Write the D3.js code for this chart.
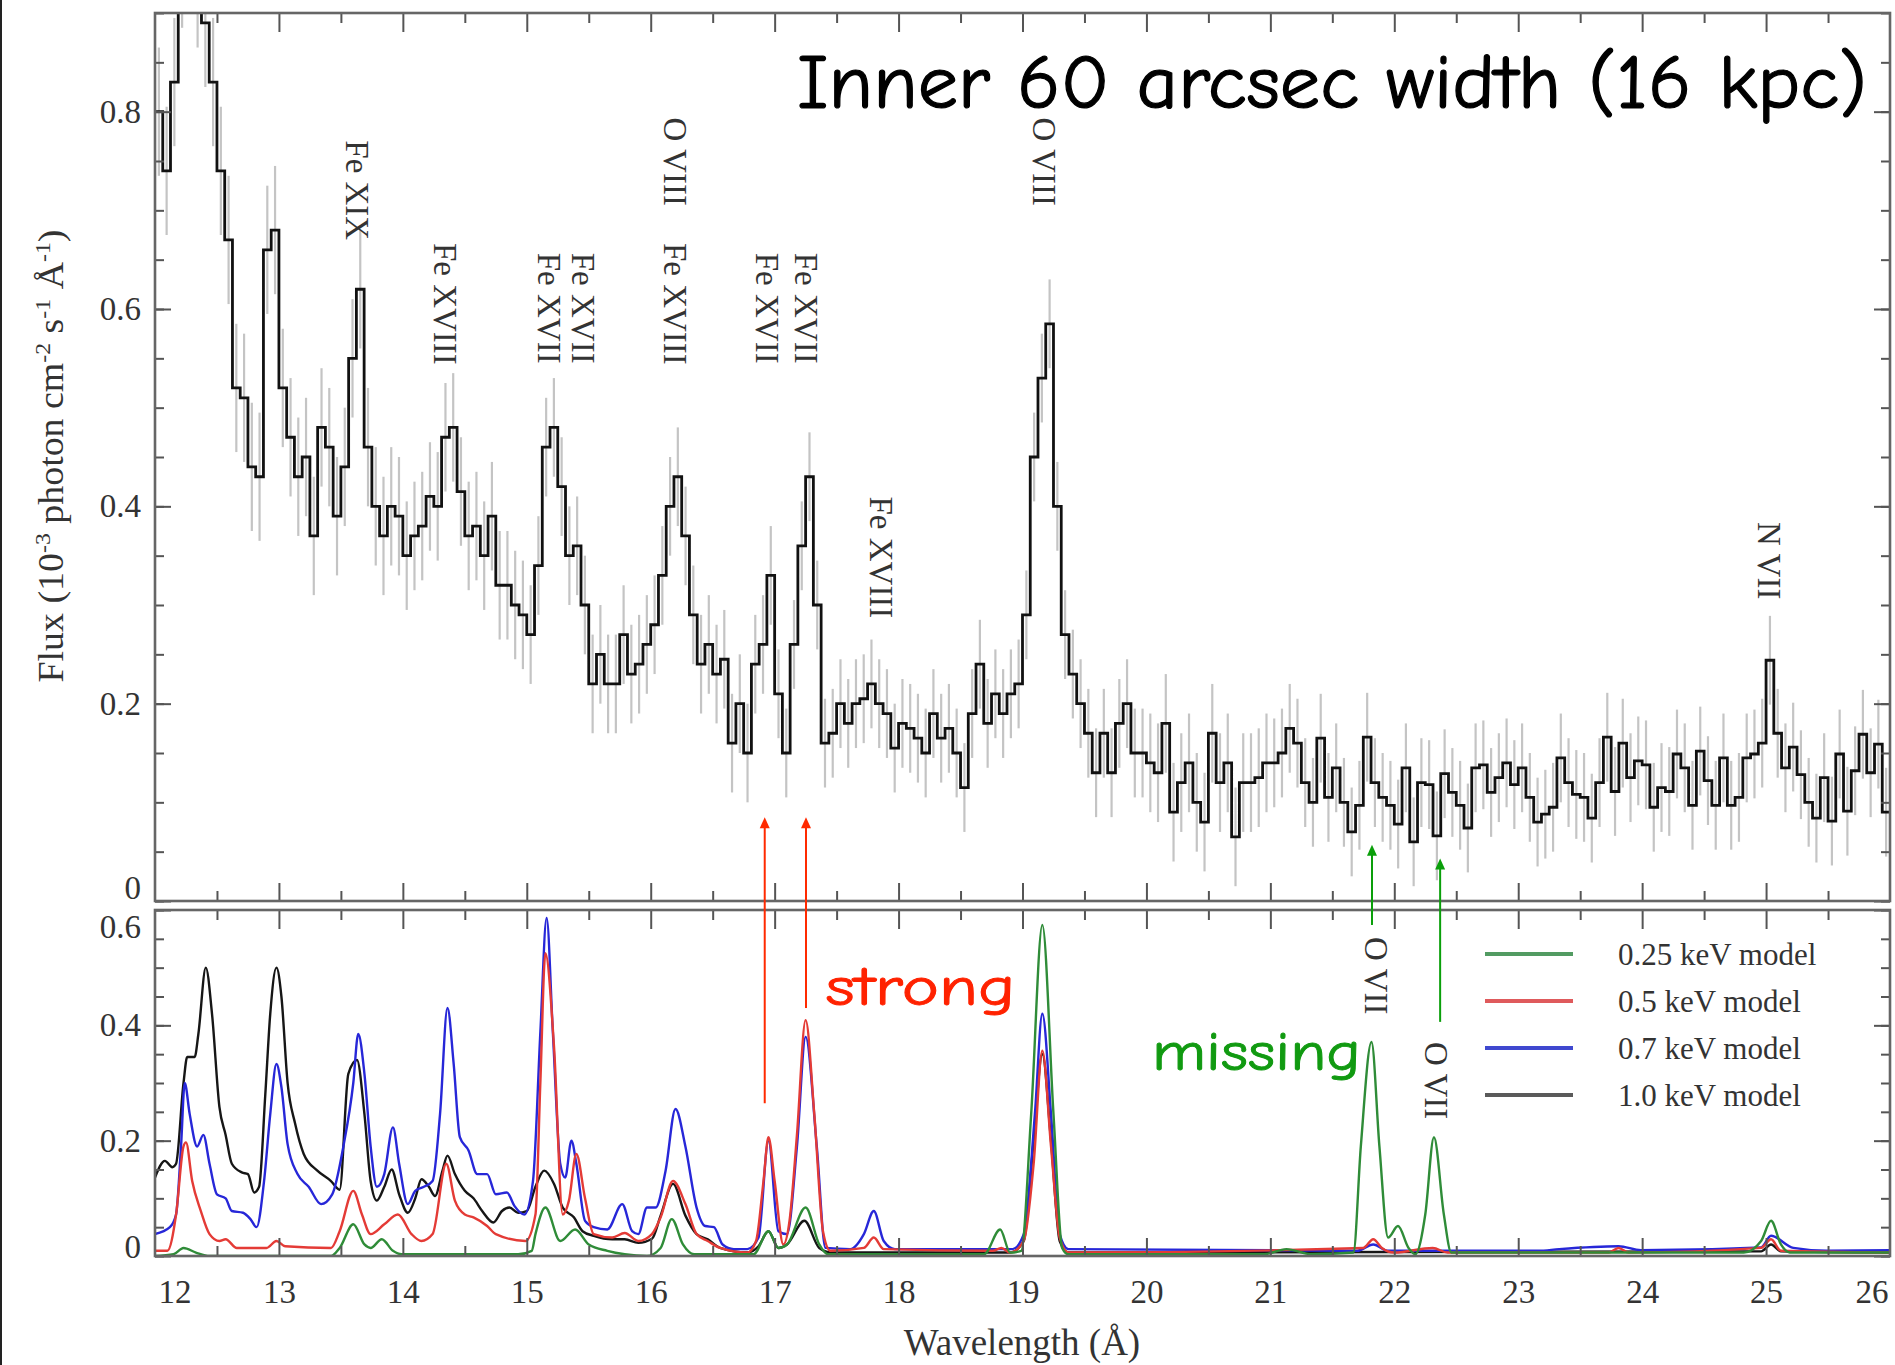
<!DOCTYPE html>
<html><head><meta charset="utf-8">
<script src="https://cdn.jsdelivr.net/npm/d3@7"></script>
<style>body{margin:0;background:#fff}</style>
</head><body>
<svg id="c" width="1895" height="1365" xmlns="http://www.w3.org/2000/svg"></svg>
<script>
// ---------------- DATA ----------------
const wlStart = 12, binWidth = 0.0625;          // RGS spectrum bins (Angstrom)
const flux = [
 // 12 A
 0.80,0.74,0.83,0.95,0.98,0.93,0.89,0.83,0.74,0.67,0.52,0.51,0.44,0.43,0.66,0.68,
 // 13 A
 0.52,0.47,0.43,0.45,0.37,0.48,0.46,0.39,0.44,0.55,0.62,0.46,0.40,0.37,0.40,0.39,
 // 14 A
 0.35,0.37,0.38,0.41,0.40,0.47,0.48,0.415,0.37,0.38,0.35,0.39,0.32,0.32,0.30,0.29,
 // 15 A
 0.27,0.34,0.46,0.48,0.42,0.35,0.36,0.30,0.22,0.25,0.22,0.22,0.27,0.23,0.24,0.26,
 // 16 A
 0.28,0.33,0.40,0.43,0.37,0.29,0.24,0.26,0.23,0.245,0.16,0.20,0.15,0.24,0.26,0.33,
 // 17 A
 0.21,0.15,0.26,0.36,0.43,0.30,0.16,0.17,0.20,0.18,0.20,0.205,0.22,0.20,0.19,0.155,
 // 18 A
 0.18,0.175,0.165,0.15,0.19,0.165,0.175,0.15,0.115,0.19,0.24,0.18,0.21,0.19,0.21,0.22,
 // 19 A
 0.29,0.45,0.53,0.585,0.40,0.27,0.23,0.20,0.17,0.13,0.17,0.13,0.18,0.20,0.15,0.15,
 // 20 A
 0.14,0.13,0.18,0.09,0.12,0.14,0.10,0.08,0.17,0.12,0.14,0.065,0.12,0.12,0.125,0.14,
 // 21 A
 0.14,0.15,0.175,0.16,0.12,0.10,0.165,0.105,0.135,0.10,0.07,0.097,0.166,0.12,0.105,0.097,
 // 22 A
 0.078,0.135,0.06,0.12,0.118,0.066,0.129,0.11,0.097,0.074,0.135,0.138,0.11,0.125,0.14,0.118,
 // 23 A
 0.135,0.105,0.08,0.088,0.095,0.145,0.12,0.108,0.105,0.084,0.12,0.166,0.111,0.16,0.125,0.142,
 // 24 A
 0.138,0.095,0.115,0.111,0.149,0.135,0.097,0.152,0.122,0.097,0.145,0.097,0.105,0.145,0.149,0.16,
 // 25 A
 0.244,0.17,0.135,0.156,0.128,0.10,0.084,0.125,0.081,0.149,0.091,0.132,0.169,0.13,0.159,0.09
];
// typical 1-sigma error half-width, one value per Angstrom (12..25)
const errHalf = [0.065,0.06,0.055,0.05,0.05,0.045,0.045,0.045,0.05,0.045,0.045,0.045,0.045,0.045];

// model spectra [wavelength, flux]
const model10 = [[12.0,0.136],[12.08,0.165],[12.14,0.154],[12.17,0.16],[12.23,0.30],[12.26,0.345],[12.32,0.345],[12.35,0.385],[12.41,0.50],[12.46,0.42],[12.52,0.258],[12.57,0.21],[12.62,0.16],[12.70,0.145],[12.75,0.142],[12.80,0.11],[12.84,0.12],[12.89,0.28],[12.93,0.42],[12.98,0.50],[13.02,0.45],[13.07,0.30],[13.13,0.23],[13.20,0.177],[13.31,0.148],[13.42,0.13],[13.49,0.115],[13.56,0.316],[13.63,0.34],[13.69,0.246],[13.74,0.13],[13.79,0.096],[13.85,0.12],[13.91,0.15],[13.97,0.107],[14.04,0.075],[14.10,0.10],[14.15,0.133],[14.21,0.12],[14.26,0.104],[14.32,0.148],[14.36,0.174],[14.42,0.142],[14.50,0.113],[14.57,0.10],[14.64,0.078],[14.73,0.058],[14.80,0.078],[14.86,0.084],[14.93,0.075],[15.00,0.078],[15.07,0.12],[15.14,0.148],[15.22,0.125],[15.29,0.084],[15.38,0.067],[15.45,0.043],[15.54,0.035],[15.69,0.029],[15.79,0.029],[15.90,0.023],[16.01,0.03],[16.08,0.07],[16.18,0.125],[16.28,0.07],[16.37,0.038],[16.46,0.029],[16.56,0.014],[16.78,0.006],[16.87,0.017],[16.95,0.043],[17.03,0.014],[17.10,0.02],[17.24,0.061],[17.36,0.014],[17.46,0.006],[18.90,0.006],[19.01,0.026],[19.09,0.20],[19.16,0.35],[19.23,0.20],[19.30,0.026],[19.37,0.006],[24.96,0.008],[25.04,0.02],[25.12,0.008],[26.0,0.006]];
const model07 = [[12.0,0.038],[12.12,0.05],[12.17,0.072],[12.21,0.19],[12.24,0.30],[12.28,0.246],[12.34,0.19],[12.39,0.21],[12.44,0.16],[12.50,0.107],[12.57,0.10],[12.62,0.078],[12.71,0.075],[12.77,0.064],[12.82,0.05],[12.88,0.13],[12.93,0.246],[12.98,0.333],[13.02,0.293],[13.07,0.194],[13.15,0.142],[13.24,0.12],[13.34,0.09],[13.43,0.107],[13.52,0.19],[13.60,0.30],[13.64,0.385],[13.69,0.316],[13.74,0.19],[13.79,0.12],[13.85,0.142],[13.92,0.223],[13.97,0.16],[14.04,0.09],[14.10,0.113],[14.17,0.12],[14.24,0.13],[14.30,0.246],[14.36,0.43],[14.41,0.333],[14.46,0.206],[14.53,0.183],[14.60,0.142],[14.68,0.142],[14.75,0.107],[14.84,0.11],[14.90,0.087],[14.98,0.072],[15.05,0.13],[15.11,0.39],[15.16,0.586],[15.21,0.39],[15.27,0.16],[15.31,0.136],[15.36,0.20],[15.40,0.16],[15.47,0.061],[15.54,0.05],[15.65,0.046],[15.77,0.09],[15.85,0.043],[15.90,0.038],[15.97,0.084],[16.04,0.084],[16.12,0.148],[16.20,0.255],[16.28,0.19],[16.37,0.084],[16.44,0.052],[16.51,0.05],[16.58,0.02],[16.67,0.012],[16.78,0.012],[16.87,0.032],[16.95,0.20],[17.03,0.043],[17.10,0.038],[17.18,0.19],[17.25,0.38],[17.34,0.19],[17.41,0.014],[17.61,0.012],[17.72,0.038],[17.80,0.078],[17.88,0.026],[17.97,0.012],[18.92,0.012],[19.01,0.038],[19.10,0.246],[19.16,0.42],[19.23,0.246],[19.30,0.038],[19.37,0.012],[21.70,0.009],[21.83,0.02],[21.95,0.009],[23.16,0.009],[23.33,0.012],[23.81,0.017],[23.99,0.01],[24.96,0.015],[25.04,0.035],[25.22,0.014],[25.49,0.009],[26.0,0.01]];
const model05 = [[12.0,0.009],[12.10,0.009],[12.17,0.072],[12.23,0.19],[12.25,0.197],[12.30,0.13],[12.37,0.078],[12.44,0.038],[12.52,0.026],[12.57,0.029],[12.66,0.014],[12.90,0.014],[12.98,0.026],[13.05,0.017],[13.42,0.014],[13.49,0.043],[13.60,0.113],[13.67,0.072],[13.74,0.038],[13.85,0.055],[13.96,0.072],[14.07,0.038],[14.15,0.026],[14.24,0.038],[14.35,0.16],[14.42,0.096],[14.50,0.072],[14.57,0.067],[14.68,0.052],[14.75,0.038],[14.99,0.026],[15.07,0.072],[15.11,0.304],[15.15,0.525],[15.22,0.362],[15.29,0.072],[15.34,0.096],[15.40,0.177],[15.47,0.10],[15.54,0.038],[15.69,0.032],[15.79,0.04],[15.90,0.026],[16.01,0.038],[16.08,0.067],[16.18,0.13],[16.28,0.09],[16.37,0.038],[16.46,0.026],[16.56,0.014],[16.78,0.006],[16.85,0.026],[16.91,0.13],[16.95,0.206],[17.00,0.13],[17.07,0.02],[17.12,0.061],[17.18,0.21],[17.25,0.409],[17.32,0.246],[17.39,0.043],[17.45,0.009],[17.72,0.014],[17.80,0.032],[17.88,0.012],[18.76,0.009],[18.83,0.014],[18.90,0.006],[19.01,0.026],[19.09,0.16],[19.16,0.356],[19.23,0.19],[19.30,0.032],[19.37,0.006],[21.75,0.014],[21.83,0.029],[21.90,0.014],[22.00,0.006],[22.31,0.014],[22.43,0.006],[23.73,0.006],[23.81,0.014],[23.89,0.006],[24.96,0.014],[25.04,0.029],[25.12,0.009],[26.0,0.006]];
const model025 = [[12.0,0.0],[12.15,0.003],[12.23,0.014],[12.33,0.006],[12.44,0.0],[13.42,0.0],[13.49,0.014],[13.60,0.055],[13.69,0.02],[13.74,0.014],[13.83,0.029],[13.92,0.009],[13.99,0.003],[14.93,0.003],[15.04,0.009],[15.07,0.038],[15.15,0.084],[15.27,0.026],[15.39,0.046],[15.50,0.02],[15.65,0.009],[15.79,0.003],[15.97,0.0],[16.08,0.014],[16.17,0.064],[16.26,0.02],[16.35,0.003],[16.83,0.003],[16.95,0.043],[17.03,0.014],[17.10,0.02],[17.25,0.084],[17.36,0.02],[17.43,0.003],[18.69,0.003],[18.82,0.046],[18.90,0.006],[18.99,0.009],[19.07,0.246],[19.16,0.574],[19.25,0.246],[19.32,0.014],[19.37,0.003],[20.95,0.003],[21.13,0.012],[21.33,0.003],[21.67,0.006],[21.73,0.19],[21.816,0.371],[21.88,0.19],[21.95,0.032],[22.03,0.052],[22.115,0.014],[22.17,0.003],[22.25,0.072],[22.32,0.206],[22.40,0.072],[22.46,0.006],[24.82,0.006],[24.96,0.026],[25.04,0.061],[25.12,0.02],[25.19,0.006],[26.0,0.006]];

const models = [
  {name:"1.0 keV model",  data:model10,  color:"#161616", legend:"#5a5a5a"},
  {name:"0.7 keV model",  data:model07,  color:"#2727d8", legend:"#3f48cf"},
  {name:"0.5 keV model",  data:model05,  color:"#e43b36", legend:"#df5a5c"},
  {name:"0.25 keV model", data:model025, color:"#2f8c38", legend:"#529b62"}
];
const legendOrder = ["0.25 keV model","0.5 keV model","0.7 keV model","1.0 keV model"];

const xTickLabels = [12,13,14,15,16,17,18,19,20,21,22,23,24,25,26];
const yTopLabels = [0,0.2,0.4,0.6,0.8];
const yBotLabels = [0,0.2,0.4,0.6];

// line identifications [text, wavelength, flux at top of label]
const topLineLabels = [
  ["Fe XIX",13.63,0.771],["Fe XVIII",14.34,0.667],["Fe XVII",15.18,0.657],["Fe XVII",15.45,0.657],
  ["O VIII",16.196,0.794],["Fe XVIII",16.196,0.667],["Fe XVII",16.94,0.657],["Fe XVII",17.25,0.657],
  ["Fe XVIII",17.86,0.41],["O VIII",19.17,0.794],["N VII",25.02,0.384]
];
const botLineLabels = [["O VII",21.85,0.553],["O VII",22.34,0.371]];
// arrows: wavelength, tip flux (top panel), tail flux (bottom panel)
const redArrows = [[16.92,0.085,0.265],[17.253,0.085,0.43]];
const greenArrows = [[21.82,0.057,0.574],[22.37,0.043,0.406]];

// ---------------- LAYOUT ----------------
const X0=155, X1=1890, T0=13, T1=901, B0=910, B1=1256;
const svg = d3.select("#c");
const x  = d3.scaleLinear().domain([12,26]).range([X0,X1]);
const yT = d3.scaleLinear().domain([0,0.9]).range([T1,T0]);
const yB = d3.scaleLinear().domain([0,0.6]).range([B1,B0]);
const SERIF = "'Liberation Serif','Times New Roman',serif";
const HAND  = "'Comic Sans MS','Comic Neue','Noto Sans',sans-serif";

svg.append("rect").attr("width",1895).attr("height",1365).attr("fill","#fff");
svg.append("line").attr("x1",1).attr("x2",1).attr("y1",0).attr("y2",1365).attr("stroke","#222").attr("stroke-width",2);

const defs = svg.append("defs");
defs.append("clipPath").attr("id","clipT").append("rect").attr("x",X0).attr("y",T0).attr("width",X1-X0).attr("height",T1-T0);
defs.append("clipPath").attr("id","clipB").append("rect").attr("x",X0).attr("y",B0).attr("width",X1-X0).attr("height",B1-B0);

// ---------- top panel: spectrum ----------
const gT = svg.append("g").attr("clip-path","url(#clipT)");
const bins = flux.map((f,i)=>({wl: wlStart + i*binWidth, f}));
gT.selectAll("line.err").data(bins).join("line").attr("class","err")
  .attr("x1",d=>x(d.wl+binWidth/2)).attr("x2",d=>x(d.wl+binWidth/2))
  .attr("y1",d=>yT(d.f - errHalf[Math.floor(d.wl - wlStart)]))
  .attr("y2",d=>yT(d.f + errHalf[Math.floor(d.wl - wlStart)]))
  .attr("stroke","#c4c4c4").attr("stroke-width",2.2);
const stepPts = bins.concat([{wl: 26, f: flux[flux.length-1]}]);
gT.append("path").datum(stepPts)
  .attr("d", d3.line().x(d=>x(d.wl)).y(d=>yT(d.f)).curve(d3.curveStepAfter))
  .attr("fill","none").attr("stroke","#111").attr("stroke-width",2.8);

// ---------- bottom panel: models ----------
const gB = svg.append("g").attr("clip-path","url(#clipB)");
const mline = d3.line().x(d=>x(d[0])).y(d=>yB(d[1])).curve(d3.curveMonotoneX);
models.forEach(m=>{
  gB.append("path").datum(m.data).attr("d",mline).attr("fill","none")
    .attr("stroke",m.color).attr("stroke-width",2.4);
});

// ---------- frames & axes ----------
const fmt = d => d===0 ? "0" : d.toFixed(1);
const AX = "#555";
function styleAxis(g){
  g.select(".domain").remove();
  g.selectAll(".tick line").attr("stroke",AX).attr("stroke-width",2);
  g.selectAll(".tick text").attr("font-family",SERIF).attr("font-size",33).attr("fill","#333");
}
const majorX = xTickLabels;
const minorX = xTickLabels.slice(0,-1).map(v=>v+0.5);
const minorYT = d3.range(0,19).map(i=>i*0.05);
const minorYB = d3.range(0,13).map(i=>i*0.05);

function panelAxes(y, top, bottom, minorY, majorY, labelsBottom){
  svg.append("g").attr("transform",`translate(${X0},0)`).call(d3.axisLeft(y).tickValues(minorY).tickSize(-9).tickFormat("")).call(styleAxis);
  const gl = svg.append("g").attr("transform",`translate(${X0},0)`).call(d3.axisLeft(y).tickValues(majorY).tickSize(-16).tickPadding(14).tickFormat(fmt)).call(styleAxis);
  svg.append("g").attr("transform",`translate(${X1},0)`).call(d3.axisRight(y).tickValues(minorY).tickSize(-9).tickFormat("")).call(styleAxis);
  svg.append("g").attr("transform",`translate(${X1},0)`).call(d3.axisRight(y).tickValues(majorY).tickSize(-16).tickFormat("")).call(styleAxis);
  svg.append("g").attr("transform",`translate(0,${top})`).call(d3.axisTop(x).tickValues(minorX).tickSize(-10).tickFormat("")).call(styleAxis);
  svg.append("g").attr("transform",`translate(0,${top})`).call(d3.axisTop(x).tickValues(majorX.slice(1,-1)).tickSize(-19).tickFormat("")).call(styleAxis);
  svg.append("g").attr("transform",`translate(0,${bottom})`).call(d3.axisBottom(x).tickValues(minorX).tickSize(-10).tickFormat("")).call(styleAxis);
  const gb = svg.append("g").attr("transform",`translate(0,${bottom})`).call(d3.axisBottom(x).tickValues(majorX).tickSize(-18).tickPadding(24).tickFormat(labelsBottom? d3.format("d") : "")).call(styleAxis);
  gb.selectAll(".tick").filter(d=>d===12||d===26).select("line").remove();
  svg.append("rect").attr("x",X0).attr("y",top).attr("width",X1-X0).attr("height",bottom-top)
    .attr("fill","none").attr("stroke","#666").attr("stroke-width",2.6);
  return {gl, gb};
}
const aT = panelAxes(yT, T0, T1, minorYT, yTopLabels, false);
aT.gl.selectAll(".tick").filter(d=>d===0).select("text").attr("transform","translate(0,-13)");
const aB = panelAxes(yB, B0, B1, minorYB, yBotLabels, true);
aB.gl.selectAll(".tick").filter(d=>d===0).select("text").attr("transform","translate(0,-9)");
aB.gl.selectAll(".tick").filter(d=>d===0.6).select("text").attr("transform","translate(0,17)");
aB.gb.selectAll(".tick").filter(d=>d===12).select("text").attr("text-anchor","start").attr("dx",3);
aB.gb.selectAll(".tick").filter(d=>d===26).select("text").attr("text-anchor","end").attr("dx",-2);

// ---------- axis titles ----------
svg.append("text").attr("x",1022).attr("y",1355).attr("text-anchor","middle")
  .attr("font-family",SERIF).attr("font-size",37).attr("fill","#333").text("Wavelength (Å)");
const yt = svg.append("text").attr("transform","translate(63,456) rotate(-90)").attr("text-anchor","middle")
  .attr("font-family",SERIF).attr("font-size",35).attr("fill","#333")
  .attr("textLength",453).attr("lengthAdjust","spacingAndGlyphs");
[["Flux (10",0,35],["-3",-13,22],[" photon cm",13,35],["-2",-13,22],[" s",13,35],["-1",-13,22],[" Å",13,35],["-1",-13,22],[")",13,35]]
 .forEach(([t,dy,fs])=>yt.append("tspan").attr("dy",dy).attr("font-size",fs).text(t));

// ---------- line labels ----------
function rotLabel(t,wl,yv){
  svg.append("text").attr("transform",`translate(${x(wl)-11},${yv}) rotate(90)`)
    .attr("font-family",SERIF).attr("font-size",33).attr("fill","#333").text(t);
}
topLineLabels.forEach(([t,wl,f])=>rotLabel(t,wl,yT(f)));
botLineLabels.forEach(([t,wl,f])=>rotLabel(t,wl,yB(f)));

// ---------- arrows ----------
function arrow(wl,tipF,tailF,color){
  const xx = x(wl), yt0 = yT(tipF), yb0 = yB(tailF);
  svg.append("line").attr("x1",xx).attr("x2",xx).attr("y1",yt0+8).attr("y2",yb0)
    .attr("stroke",color).attr("stroke-width",2);
  svg.append("path").attr("d",`M${xx},${yt0} L${xx-5},${yt0+11} L${xx+5},${yt0+11} Z`).attr("fill",color);
}
redArrows.forEach(a=>arrow(a[0],a[1],a[2],"#ff2a00"));
greenArrows.forEach(a=>arrow(a[0],a[1],a[2],"#0a9f0a"));

// ---------- annotations ----------
svg.append("text").attr("x",797).attr("y",108).attr("font-family",HAND).attr("font-size",76)
  .attr("fill","#000").attr("stroke","#000").attr("stroke-width",1.2)
  .attr("textLength",1070).attr("lengthAdjust","spacingAndGlyphs")
  .text("Inner 60 arcsec width (16 kpc)");
svg.append("text").attr("x",x(17.41)).attr("y",yB(0.435)).attr("font-family",HAND).attr("font-size",54)
  .attr("fill","#ff2200").attr("stroke","#ff2200").attr("stroke-width",0.9)
  .attr("textLength",190).attr("lengthAdjust","spacingAndGlyphs").text("strong");
svg.append("text").attr("x",x(20.045)).attr("y",yB(0.3225)).attr("font-family",HAND).attr("font-size",54)
  .attr("fill","#119a11").attr("stroke","#119a11").attr("stroke-width",0.9)
  .attr("textLength",209).attr("lengthAdjust","spacingAndGlyphs").text("missing");

// ---------- legend ----------
const lg = svg.append("g");
legendOrder.forEach((name,i)=>{
  const m = models.find(d=>d.name===name);
  const yy = 954 + i*47;
  lg.append("line").attr("x1",1485).attr("x2",1573).attr("y1",yy).attr("y2",yy)
    .attr("stroke",m.legend).attr("stroke-width",4);
  lg.append("text").attr("x",1618).attr("y",yy+11).attr("font-family",SERIF).attr("font-size",31)
    .attr("fill","#333").text(name);
});
</script>
</body></html>
